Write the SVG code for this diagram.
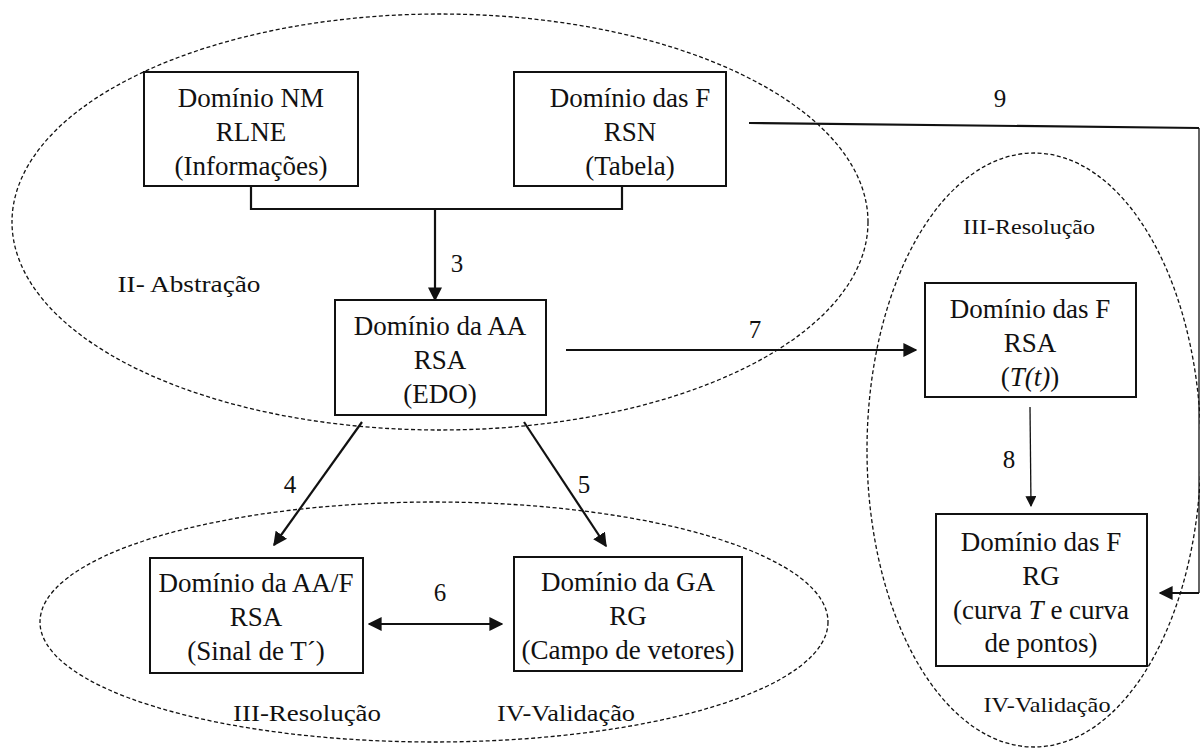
<svg xmlns="http://www.w3.org/2000/svg" width="1200" height="749" viewBox="0 0 1200 749">
  <style>
    text { fill: #111; }
    .box { fill: #fff; stroke: #111; stroke-width: 2; }
    .bt { font-size: 27px; text-anchor: middle; }
    .lbl { font-size: 25px; text-anchor: middle; }
    .phase { font-size: 24px; text-anchor: middle; }
    .phase-s { font-size: 21px; text-anchor: middle; }
    .zone { fill: none; stroke: #111; stroke-width: 1.3; stroke-dasharray: 4 2.5; }
    .wire { fill: none; stroke: #111; stroke-width: 2.2; }
    .thin { fill: none; stroke: #111; stroke-width: 1.3; }
  </style>
  <defs>
    <marker id="ah" viewBox="0 0 10 10" refX="9" refY="5" markerWidth="14" markerHeight="14" markerUnits="userSpaceOnUse" orient="auto-start-reverse">
      <path d="M0,0 L10,5 L0,10 z" fill="#111"/>
    </marker>
    <marker id="ahs" viewBox="0 0 10 10" refX="9" refY="5" markerWidth="11" markerHeight="11" markerUnits="userSpaceOnUse" orient="auto">
      <path d="M0,0 L10,5 L0,10 z" fill="#111"/>
    </marker>
  </defs>

  <rect width="1200" height="749" fill="#fff"/>

  <!-- domain boxes -->
  <g id="node-nm">
    <rect class="box" x="144" y="72" width="214" height="114"/>
    <text class="bt" font-family="Liberation Serif" x="251" y="107">Domínio NM</text>
    <text class="bt" font-family="Liberation Serif" x="251" y="141">RLNE</text>
    <text class="bt" font-family="Liberation Serif" x="251" y="175">(Informações)</text>
  </g>

  <g id="node-f-rsn">
    <rect class="box" x="514" y="72" width="212" height="114"/>
    <text class="bt" font-family="Liberation Serif" x="630" y="107">Domínio das F</text>
    <text class="bt" font-family="Liberation Serif" x="630" y="141">RSN</text>
    <text class="bt" font-family="Liberation Serif" x="630" y="175">(Tabela)</text>
  </g>

  <g id="node-aa">
    <rect class="box" x="335" y="300" width="211" height="115"/>
    <text class="bt" font-family="Liberation Serif" x="440" y="335">Domínio da AA</text>
    <text class="bt" font-family="Liberation Serif" x="440" y="369">RSA</text>
    <text class="bt" font-family="Liberation Serif" x="440" y="403">(EDO)</text>
  </g>

  <g id="node-f-rsa">
    <rect class="box" x="925" y="283" width="211" height="114"/>
    <text class="bt" font-family="Liberation Serif" x="1030" y="318">Domínio das F</text>
    <text class="bt" font-family="Liberation Serif" x="1030" y="352">RSA</text>
    <text class="bt" font-family="Liberation Serif" x="1030" y="386">(<tspan font-style="italic">T(t)</tspan>)</text>
  </g>

  <g id="node-f-rg">
    <rect class="box" x="936" y="514" width="211" height="152"/>
    <text class="bt" font-family="Liberation Serif" x="1041" y="551">Domínio das F</text>
    <text class="bt" font-family="Liberation Serif" x="1041" y="585">RG</text>
    <text class="bt" font-family="Liberation Serif" x="1041" y="619">(curva <tspan font-style="italic">T</tspan> e curva</text>
    <text class="bt" font-family="Liberation Serif" x="1041" y="652">de pontos)</text>
  </g>

  <g id="node-aaf">
    <rect class="box" x="150" y="558" width="213" height="115"/>
    <text class="bt" font-family="Liberation Serif" x="256" y="592">Domínio da AA/F</text>
    <text class="bt" font-family="Liberation Serif" x="256" y="626">RSA</text>
    <text class="bt" font-family="Liberation Serif" x="256" y="660">(Sinal de T´)</text>
  </g>

  <g id="node-ga">
    <rect class="box" x="514" y="557" width="228" height="114"/>
    <text class="bt" font-family="Liberation Serif" x="628" y="591">Domínio da GA</text>
    <text class="bt" font-family="Liberation Serif" x="628" y="625">RG</text>
    <text class="bt" font-family="Liberation Serif" x="628" y="659">(Campo de vetores)</text>
  </g>

  <!-- phase zones -->
  <g id="zones">
    <ellipse class="zone" cx="440" cy="222" rx="428" ry="208"/>
    <ellipse class="zone" cx="434" cy="622" rx="394" ry="120"/>
    <ellipse class="zone" cx="1034" cy="450" rx="167" ry="297"/>
    <text class="phase" font-family="Liberation Serif" x="189" y="292" textLength="143" lengthAdjust="spacingAndGlyphs">II- Abstração</text>
    <text class="phase-s" font-family="Liberation Serif" x="1029" y="234" textLength="132" lengthAdjust="spacingAndGlyphs">III-Resolução</text>
    <text class="phase" font-family="Liberation Serif" x="307" y="721" textLength="148" lengthAdjust="spacingAndGlyphs">III-Resolução</text>
    <text class="phase" font-family="Liberation Serif" x="566" y="721" textLength="138" lengthAdjust="spacingAndGlyphs">IV-Validação</text>
    <text class="phase-s" font-family="Liberation Serif" x="1047" y="712" textLength="127" lengthAdjust="spacingAndGlyphs">IV-Validação</text>
  </g>

  <!-- connectors -->
  <g id="connectors">
    <polyline class="wire" points="251,186 251,209 622,209 622,186"/>
    <line class="wire" x1="435" y1="209" x2="435" y2="300" marker-end="url(#ah)"/>
    <text class="lbl" font-family="Liberation Serif" x="457" y="272">3</text>

    <line class="wire" x1="362" y1="422" x2="274" y2="545" marker-end="url(#ah)"/>
    <text class="lbl" font-family="Liberation Serif" x="290" y="493">4</text>

    <line class="wire" x1="524" y1="422" x2="606" y2="546" marker-end="url(#ah)"/>
    <text class="lbl" font-family="Liberation Serif" x="584" y="493">5</text>

    <line class="wire" x1="369" y1="624" x2="502" y2="624" marker-start="url(#ah)" marker-end="url(#ah)"/>
    <text class="lbl" font-family="Liberation Serif" x="440" y="601">6</text>

    <line class="wire" x1="566" y1="350" x2="916" y2="350" marker-end="url(#ah)"/>
    <text class="lbl" font-family="Liberation Serif" x="755" y="338">7</text>

    <line class="thin" x1="1030" y1="407" x2="1031" y2="506" marker-end="url(#ahs)"/>
    <text class="lbl" font-family="Liberation Serif" x="1009" y="468">8</text>

    <polyline class="wire" points="749,123 1199,128"/>
    <polyline class="thin" points="1199,128 1199,593"/>
    <line class="wire" x1="1199" y1="593" x2="1160" y2="593" marker-end="url(#ah)"/>
    <text class="lbl" font-family="Liberation Serif" x="1000" y="107">9</text>
  </g>
</svg>
